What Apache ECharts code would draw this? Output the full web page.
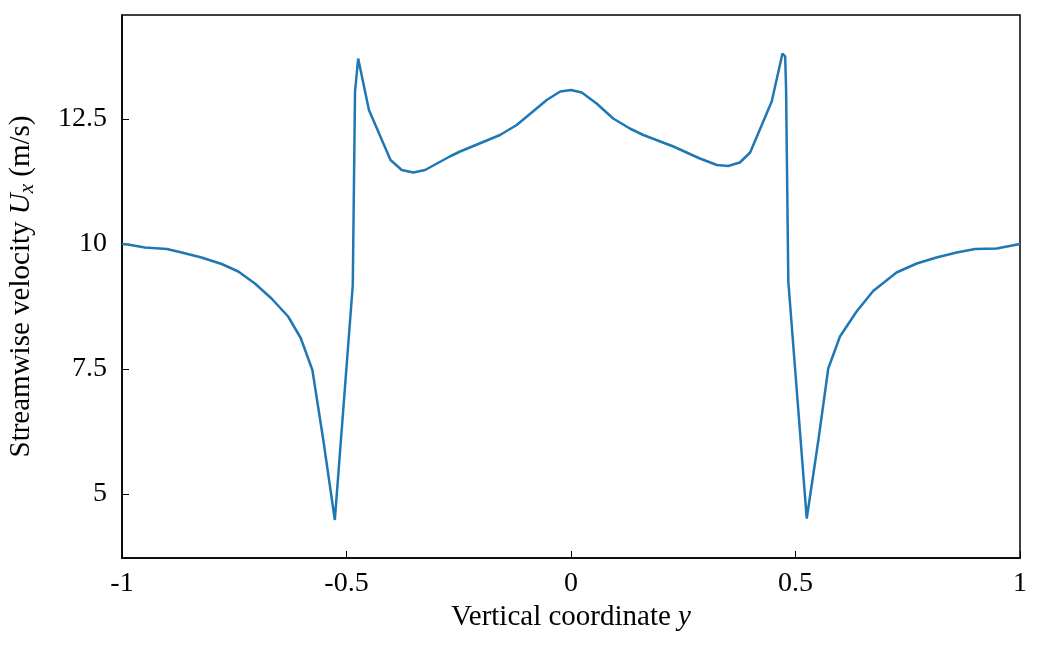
<!DOCTYPE html>
<html>
<head>
<meta charset="utf-8">
<script src="https://cdn.jsdelivr.net/npm/echarts@6/dist/echarts.min.js"></script>
<style>
	html, body { margin: 0; padding: 0; background: #fff; }
	#chart { width: 1056px; height: 652px; }
</style>
</head>
<body>
<div id="chart"></div>
<script>
// vertical coordinate y and streamwise velocity Ux
var yCoord = [-1.0, -0.987, -0.949, -0.9, -0.867, -0.823, -0.778, -0.741, -0.704, -0.667,
	-0.63, -0.602, -0.576, -0.552, -0.526, -0.486, -0.481, -0.474, -0.45, -0.402,
	-0.377, -0.351, -0.325, -0.27, -0.247, -0.158, -0.121, -0.054, -0.024, 0,
	0.024, 0.057, 0.094, 0.131, 0.161, 0.228, 0.287, 0.325, 0.35, 0.376,
	0.399, 0.447, 0.471, 0.477, 0.479, 0.484, 0.525, 0.551, 0.573, 0.599,
	0.636, 0.673, 0.725, 0.77, 0.814, 0.859, 0.9, 0.948, 1.0];
var ux = [10.0, 9.99, 9.93, 9.9, 9.83, 9.73, 9.6, 9.45, 9.21, 8.91,
	8.55, 8.12, 7.48, 6.1, 4.48, 9.18, 13.05, 13.71, 12.68, 11.68,
	11.48, 11.43, 11.48, 11.75, 11.85, 12.18, 12.38, 12.88, 13.05, 13.08,
	13.03, 12.81, 12.51, 12.31, 12.18, 11.95, 11.71, 11.58, 11.56, 11.63,
	11.83, 12.85, 13.81, 13.75, 13.11, 9.25, 4.51, 6.08, 7.51, 8.15,
	8.65, 9.06, 9.43, 9.61, 9.73, 9.83, 9.9, 9.91, 10.0];
var xTicks = [-1, -0.5, 0, 0.5, 1];
var yTicks = [5, 7.5, 10, 12.5];

var lineData = [];
for (var i = 0; i < yCoord.length; i++) {
	lineData.push([yCoord[i], ux[i]]);
}

var font = 'Liberation Serif';
var chart = echarts.init(document.getElementById('chart'), null, {renderer: 'canvas'});
chart.setOption({
	animation: false,
	backgroundColor: '#fff',
	grid: {
		left: 122, right: 36, top: 15, bottom: 94,
		outerBoundsMode: 'none', containLabel: false,
		show: true, borderColor: '#000', borderWidth: 1.5, backgroundColor: 'transparent'
	},
	xAxis: {
		type: 'value', min: -1, max: 1,
		name: 'Vertical coordinate {i|y}',
		nameLocation: 'middle', nameGap: 45,
		nameTextStyle: {
			fontFamily: font, fontSize: 29, color: '#000',
			rich: {i: {fontFamily: font, fontSize: 29, fontStyle: 'italic', color: '#000'}}
		},
		axisLine: {show: true, onZero: false, lineStyle: {color: '#000', width: 1.5}},
		axisTick: {show: true, inside: true, length: 7, customValues: xTicks, lineStyle: {color: '#000', width: 1}},
		axisLabel: {customValues: xTicks, margin: 12, fontFamily: font, fontSize: 28, color: '#000',
			formatter: function (v) { return String(v); }},
		splitLine: {show: false}
	},
	yAxis: {
		type: 'value', min: 3.72, max: 14.58,
		name: 'Streamwise velocity {i|U}{s|x} (m/s)',
		nameLocation: 'middle', nameGap: 84, nameRotate: 90,
		nameTextStyle: {
			fontFamily: font, fontSize: 29, color: '#000',
			rich: {
				i: {fontFamily: font, fontSize: 29, fontStyle: 'italic', color: '#000'},
				s: {fontFamily: font, fontSize: 21, fontStyle: 'italic', color: '#000', verticalAlign: 'bottom', padding: [12, 0, 0, 0]}
			}
		},
		axisLine: {show: true, onZero: false, lineStyle: {color: '#000', width: 1.5}},
		axisTick: {show: true, inside: true, length: 7, customValues: yTicks, lineStyle: {color: '#000', width: 1}},
		axisLabel: {customValues: yTicks, margin: 15, fontFamily: font, fontSize: 28, color: '#000',
			formatter: function (v) { return String(v); }},
		splitLine: {show: false}
	},
	series: [{
		type: 'line',
		data: lineData,
		showSymbol: false,
		lineStyle: {color: '#1f77b4', width: 2.5},
		clip: true
	}]
});
</script>
</body>
</html>
